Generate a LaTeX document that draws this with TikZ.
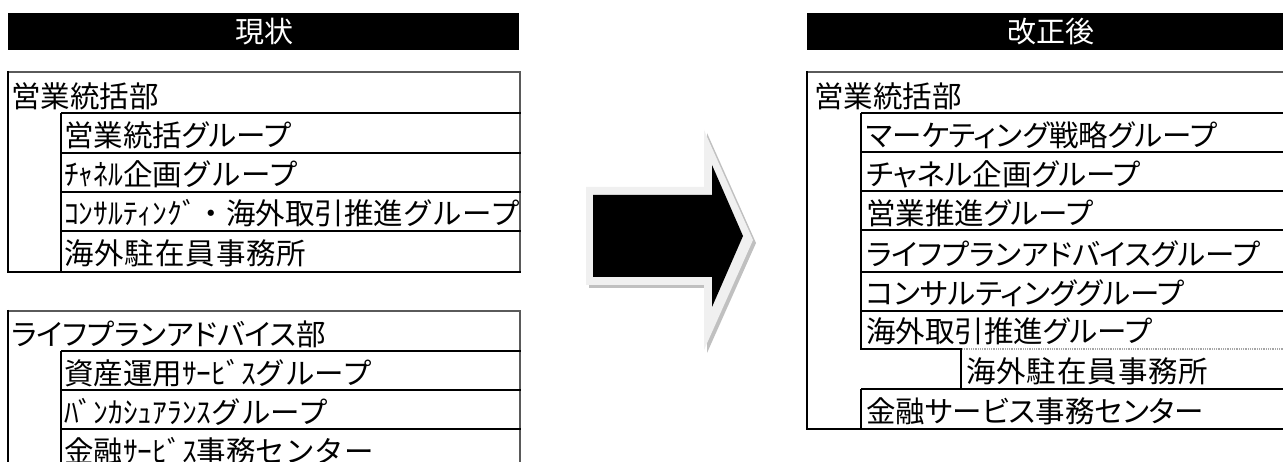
\documentclass[tikz,border=0pt]{standalone}
\usepackage{fontspec}
\setmainfont[RawFeature=+palt]{Noto Sans CJK JP}
\newfontfamily\plainjp{Noto Sans CJK JP}
\definecolor{arrowrim}{HTML}{F0F0F0}
\definecolor{arrowshade}{HTML}{C0C0C0}
\definecolor{rimgray}{HTML}{5A5A5A}
\tikzset{
  lbl/.style={anchor=base west, inner sep=0pt, font=\fontsize{29.5}{31}\selectfont},
  spaced/.style={anchor=base west, inner sep=0pt, font=\fontsize{29.5}{31}\selectfont\addfontfeature{LetterSpace=3}},
  ttl/.style={anchor=base, inner sep=0pt, text=white, font=\fontsize{29}{31}\selectfont},
  blackrule/.style={line width=2.6pt, black},
  greyrule/.style={line width=1.8pt, rimgray},
  dotrule/.style={line width=1.6pt, gray!70, dash pattern=on 1pt off 0.8pt},
}
\begin{document}
\begin{tikzpicture}[x=1pt,y=-1pt]
\useasboundingbox (0,0) rectangle (1283,462);
\fill[white] (0,0) rectangle (1283,462);

% title bars
\fill[black] (8,13) rectangle (519,50);
\node[ttl] (t1) at (264,42.5) {現状};
\fill[black] (807,13) rectangle (1300,50);
\node[ttl] (t2) at (1051,42.5) {改正後};

% left box 1
\draw[greyrule] (8,72) -- (520,72) -- (520,272);
\draw[blackrule] (8,71) -- (8,272) -- (521,272);
\draw[blackrule] (61,113) -- (61,272);
\foreach \yy in {113,153,192,231} \draw[blackrule] (61,\yy) -- (521,\yy);
\node[lbl] (a0) at (11,108) {営業統括部};
\node[lbl] (a1) at (64,146.5) {営業統括グループ};
\node[lbl] (a2) at (64,185.5) {\plainjp ﾁｬﾈﾙ企画グループ};
\node[lbl] (a3) at (64,224.5) {\plainjp ｺﾝｻﾙﾃｨﾝｸﾞ・海外取引推進グループ};
\node[spaced] (a4) at (64,264.5) {海外駐在員事務所};

% left box 2
\draw[greyrule] (8,311) -- (520,311) -- (520,470);
\draw[blackrule] (8,310) -- (8,470);
\draw[blackrule] (61,351) -- (61,470);
\foreach \yy in {351,390,429} \draw[blackrule] (61,\yy) -- (521,\yy);
\node[lbl] (b0) at (11,346) {ライフプランアドバイス部};
\node[lbl] (b1) at (64,384.5) {\plainjp 資産運用ｻｰﾋﾞｽグループ};
\node[lbl] (b2) at (64,423.5) {\plainjp ﾊﾞﾝｶｼｭｱﾗﾝｽグループ};
\node[lbl] (b3) at (64,462.5) {\plainjp 金融ｻｰﾋﾞｽ事務センター};

% arrow
\fill[arrowshade] (589,190) -- (707,190) -- (707,133) -- (756,243) -- (707,353) -- (707,288) -- (589,288) -- cycle;
\fill[arrowrim] (586,187) -- (704,187) -- (704,130) -- (753,240) -- (704,350) -- (704,285) -- (586,285) -- cycle;
\fill[black] (593,195) -- (712,195) -- (712,165) -- (743,236) -- (712,307) -- (712,277) -- (593,277) -- cycle;

% right box
\draw[greyrule] (807,72) -- (1300,72);
\draw[blackrule] (807,71) -- (807,429) -- (1300,429);
\draw[blackrule] (861,113) -- (861,349) -- (962,349);
\draw[blackrule] (961,349) -- (961,390);
\draw[blackrule] (861,389) -- (861,429);
\foreach \yy in {113,152,191,230,272,311,389} \draw[blackrule] (861,\yy) -- (1300,\yy);
\draw[dotrule] (962,349) -- (1300,349);
\node[lbl] (c0) at (814,108) {営業統括部};
\node[lbl] (c1) at (866,146.5) {マーケティング戦略グループ};
\node[lbl] (c2) at (866,185.5) {チャネル企画グループ};
\node[lbl] (c3) at (866,224.5) {営業推進グループ};
\node[lbl] (c4) at (866,265.5) {ライフプランアドバイスグループ};
\node[lbl] (c5) at (866,304.5) {コンサルティンググループ};
\node[lbl] (c6) at (866,342.5) {海外取引推進グループ};
\node[spaced] (c7) at (966,382.5) {海外駐在員事務所};
\node[lbl] (c8) at (866,422.5) {金融サービス事務センター};
\end{tikzpicture}
\end{document}
